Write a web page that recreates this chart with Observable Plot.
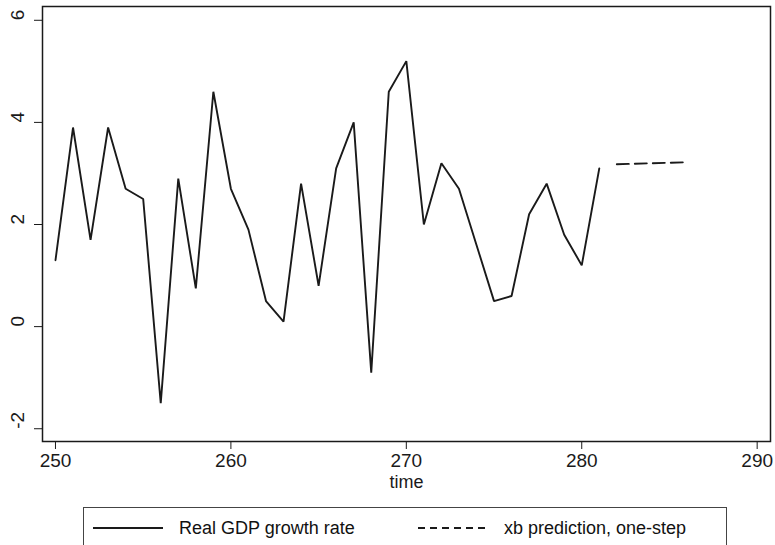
<!DOCTYPE html>
<html>
<head>
<meta charset="utf-8">
<script src="https://cdn.jsdelivr.net/npm/d3@7"></script>
<script src="https://cdn.jsdelivr.net/npm/@observablehq/plot@0.6"></script>
<style>
  html, body { margin: 0; padding: 0; background: #fff; }
  #wrap { position: relative; width: 775px; height: 545px; overflow: hidden;
          font-family: "Liberation Sans", Arial, Helvetica, sans-serif; }
  #legend { position: absolute; left: 83px; top: 507px; width: 644px; height: 60px;
            border: 1.5px solid #444; box-sizing: border-box; background: #fff; }
  #legend .item { position: absolute; top: 8px; display: flex; align-items: center;
                  font-size: 18px; color: #111; white-space: nowrap; }
  #legend svg { margin-right: 16px; }
</style>
</head>
<body>
<div id="wrap">
  <div id="chart"></div>
  <div id="legend"></div>
</div>
<script>
// Quarterly observations (time index) and real GDP growth rate
const time = [250, 251, 252, 253, 254, 255, 256, 257, 258, 259, 260, 261, 262, 263, 264, 265,
              266, 267, 268, 269, 270, 271, 272, 273, 274, 275, 276, 277, 278, 279, 280, 281];
const growth = [1.3, 3.9, 1.7, 3.9, 2.7, 2.5, -1.5, 2.9, 0.75, 4.6, 2.7, 1.9, 0.5, 0.1, 2.8, 0.8,
                3.1, 4.0, -0.9, 4.6, 5.2, 2.0, 3.2, 2.7, 1.6, 0.5, 0.6, 2.2, 2.8, 1.8, 1.2, 3.1];

// One-step-ahead linear prediction
const predTime = [282, 283, 284, 285, 286];
const predValue = [3.18, 3.19, 3.2, 3.21, 3.22];

// Axis ticks and legend labels
const xTicks = [250, 260, 270, 280, 290];
const yTicks = [-2, 0, 2, 4, 6];
const seriesNames = ["Real GDP growth rate", "xb prediction, one-step"];
const xLabel = "time";

const actual = time.map((t, i) => ({time: t, value: growth[i]}));
const forecast = predTime.map((t, i) => ({time: t, value: predValue[i]}));

const ink = "#1a1a1a";

const chart = Plot.plot({
  width: 775,
  height: 505,
  marginLeft: 42,
  marginRight: 5,
  marginTop: 6,
  marginBottom: 64,
  style: {fontFamily: '"Liberation Sans", Arial, Helvetica, sans-serif', fontSize: "19px", color: ink, background: "#fff"},
  x: {domain: [249.26, 290.76], label: null},
  y: {domain: [-2.25, 6.27], label: null},
  marks: [
    Plot.frame({stroke: ink, strokeWidth: 1.5}),
    Plot.axisX({ticks: xTicks, tickSize: 8, tickPadding: 4, fontSize: 19, stroke: ink, label: null}),
    Plot.axisY({ticks: yTicks, tickSize: 8, tickFormat: () => "", stroke: ink, label: null}),
    Plot.text(yTicks, {y: d => d, text: d => String(d), frameAnchor: "left", dx: -25,
                       rotate: -90, fontSize: 19, fill: ink}),
    Plot.text([xLabel], {text: d => d, frameAnchor: "bottom", dy: 46, fontSize: 18, fill: ink}),
    Plot.line(actual, {x: "time", y: "value", stroke: ink, strokeWidth: 1.9, strokeLinejoin: "miter"}),
    Plot.line(forecast, {x: "time", y: "value", stroke: ink, strokeWidth: 1.9, strokeDasharray: "12 6"})
  ]
});
document.getElementById("chart").appendChild(chart);

// Legend: a solid sample for the observed series, a dashed one for the prediction
const legend = d3.select("#legend");
const positions = [9, 334];
const dashes = [null, "7 5"];
seriesNames.forEach((name, i) => {
  const item = legend.append("div").attr("class", "item").style("left", positions[i] + "px");
  const s = item.append("svg").attr("width", 70).attr("height", 24);
  s.append("line").attr("x1", 0).attr("x2", 70).attr("y1", 12).attr("y2", 12)
    .attr("stroke", ink).attr("stroke-width", 1.8)
    .attr("stroke-dasharray", dashes[i]);
  item.append("span").text(name);
});
</script>
</body>
</html>
